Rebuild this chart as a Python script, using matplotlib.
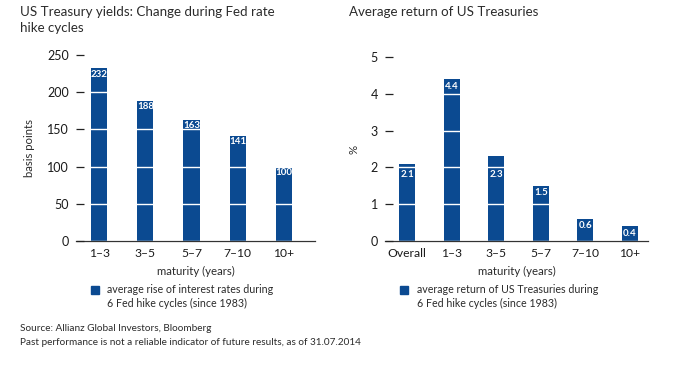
import matplotlib.pyplot as plt

plt.rcParams['font.family'] = ['Lato', 'DejaVu Sans']

# data
yield_cats = ['1–3', '3–5', '5–7', '7–10', '10+']
yield_bp = [232, 188, 163, 141, 100]
ret_cats = ['Overall', '1–3', '3–5', '5–7', '7–10', '10+']
ret_pct = [2.1, 4.4, 2.3, 1.5, 0.6, 0.4]

blue = '#0b4a91'
txt = '#2b2b2b'

fig = plt.figure(figsize=(6.74, 3.65), dpi=100)


def style(ax, cats, vals, ymax, step, width, xmax, fmt, off, clear):
    x = list(range(len(cats)))
    ticks = [i * step for i in range(6)]
    ax.bar(x, vals, width=width, color=blue, zorder=1)
    ax.set_xlim(-0.5, xmax)
    ax.set_ylim(0, ymax)
    ax.set_yticks(ticks)
    ax.set_xticks(x)
    ax.set_xticklabels(cats)
    for s in ['top', 'right', 'left']:
        ax.spines[s].set_visible(False)
    ax.spines['bottom'].set_color('#333333')
    ax.spines['bottom'].set_linewidth(0.9)
    ax.tick_params(axis='y', direction='in', length=5.5, width=0.9,
                   color='#222222', pad=5, labelsize=9, labelcolor='#1a1a1a')
    ax.tick_params(axis='x', length=0, pad=5, labelsize=8.7, labelcolor='#1a1a1a')
    ax.set_axisbelow(False)
    ax.yaxis.grid(True, color='white', linewidth=1.0)
    for xi, v in zip(x, vals):
        # keep the value label clear of a white gridline close under the bar top
        below = [g for g in ticks if 0 < g <= v and v - g < clear]
        top = (below[-1] if below else v) - off
        ax.text(xi, top, fmt(v), ha='center', va='top', color='white',
                fontsize=7, fontweight='bold', zorder=3)
    ax.set_xlabel('maturity (years)', fontsize=8.2, color=txt, labelpad=5)


ax1 = fig.add_axes([76 / 674, 1 - 241 / 365, 239 / 674, 186 / 365])
style(ax1, yield_cats, yield_bp, 250, 50, 0.35, 4.67, lambda v: f'{v}', 1.5, 12)
ax1.set_ylabel('basis points', fontsize=8.2, color=txt, labelpad=9)

ax2 = fig.add_axes([385 / 674, 1 - 241 / 365, 263 / 674, 184 / 365])
style(ax2, ret_cats, ret_pct, 5, 1, 0.37, 5.41, lambda v: f'{v:.1f}', 0.07, 0.35)
ax2.set_ylabel('%', fontsize=8.2, color=txt, labelpad=8)

# titles
fig.text(20 / 674, 1 - 6 / 365, 'US Treasury yields: Change during Fed rate\nhike cycles',
         fontsize=9.6, color=txt, va='top', ha='left', linespacing=1.45)
fig.text(349 / 674, 1 - 6 / 365, 'Average return of US Treasuries',
         fontsize=9.6, color=txt, va='top', ha='left')

# legends
fig.patches.append(plt.Rectangle((91 / 674, 1 - 294 / 365), 8 / 674, 8 / 365,
                                 transform=fig.transFigure, color=blue))
fig.text(107 / 674, 1 - 284 / 365,
         'average rise of interest rates during\n6 Fed hike cycles (since 1983)',
         fontsize=7.7, color=txt, va='top', ha='left', linespacing=1.35)
fig.patches.append(plt.Rectangle((400 / 674, 1 - 294 / 365), 8 / 674, 8 / 365,
                                 transform=fig.transFigure, color=blue))
fig.text(417 / 674, 1 - 284 / 365,
         'average return of US Treasuries during\n6 Fed hike cycles (since 1983)',
         fontsize=7.7, color=txt, va='top', ha='left', linespacing=1.35)

# source
fig.text(20 / 674, 1 - 324 / 365,
         'Source: Allianz Global Investors, Bloomberg\n'
         'Past performance is not a reliable indicator of future results, as of 31.07.2014',
         fontsize=7.2, color=txt, va='top', ha='left', linespacing=1.75)

fig.savefig('out.png', dpi=100)
